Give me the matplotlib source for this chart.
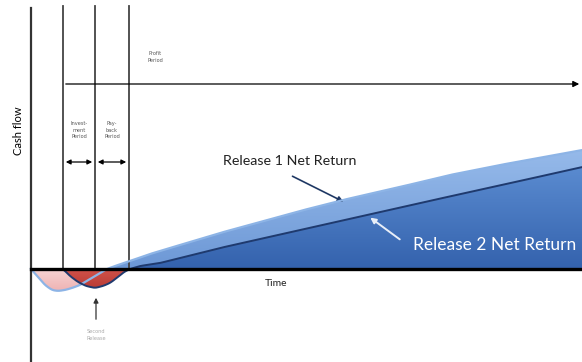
import numpy as np
import matplotlib.pyplot as plt
from matplotlib.colors import LinearSegmentedColormap
from matplotlib.path import Path

# time axis runs 0..582, cash flow zero sits at 0
release1_t = [31, 38, 45, 52, 58, 65, 72, 80, 90, 100, 107, 115, 130, 150, 180,
              220, 260, 300, 343, 400, 450, 500, 550, 582]
release1_cf = [0, -8, -16, -21, -22, -21, -19, -16, -10, -4, 0, 3, 8, 15, 24,
               36, 47, 58, 69, 82, 94, 104, 113, 119]

release2_t = [63, 70, 78, 86, 95, 103, 110, 118, 124, 130, 140, 160, 180, 220,
              260, 300, 367, 420, 470, 520, 582]
release2_cf = [0, -7, -13, -17, -19, -17, -14, -8, -3, 0, 3, 6, 11, 21, 30, 39,
               54, 66, 77, 88, 102]

period_marks = [63, 95, 129]  # release 2 start, payback start, profit start
period_labels = ["Invest-\nment\nPeriod", "Pay-\nback\nPeriod"]


def smooth_curve(t, cf, start):
    x = np.arange(start, 583, 0.5)
    y = np.interp(x, t, cf)
    k = 11
    pad = np.pad(y, k // 2, mode="edge")
    y = np.convolve(pad, np.ones(k) / k, mode="valid")
    y[0] = 0
    return x, y


x1, t1 = smooth_curve(release1_t, release1_cf, 31)
x2, t2 = smooth_curve(release2_t, release2_cf, 63)


def gradient_fill(ax, x, y, mask, top, bottom, ymin, ymax, z):
    poly = ax.fill_between(x, y, 0, where=mask, color="none")
    path = Path.make_compound_path(*poly.get_paths())
    cmap = LinearSegmentedColormap.from_list("g", [bottom, top])
    grad = np.linspace(0, 1, 256).reshape(-1, 1)
    im = ax.imshow(grad, cmap=cmap, aspect="auto", origin="lower",
                   extent=[0, 582, ymin, ymax], zorder=z,
                   interpolation="bilinear")
    im.set_clip_path(path, transform=ax.transData)


fig = plt.figure(figsize=(5.82, 3.62), dpi=100)
ax = fig.add_axes([0, 0, 1, 1])

# negative (investment) areas
gradient_fill(ax, x1, t1, t1 < 0, "#f6d3d3", "#eeb0b0", -24, 0, 1)
gradient_fill(ax, x2, t2, t2 < 0, "#d0524a", "#b83a34", -20, 0, 2)

# positive (return) areas
gradient_fill(ax, x1, t1, t1 > 0, "#96baea", "#6d98d6", 0, 120, 1)
gradient_fill(ax, x2, t2, t2 > 0, "#5a8bd0", "#3462ad", 0, 102, 2)

ax.plot(x1, t1, color="#8db4e6", lw=1.6, zorder=4)
ax.plot(x2, t2, color="#1f3a6e", lw=1.4, zorder=4)

ax.set_xlim(0, 582)
ax.set_ylim(-93, 269)
ax.axis("off")

# axes of the diagram
ax.plot([31, 31], [-93, 261], color="#333333", lw=1.6, zorder=5)
ax.plot([31, 582], [0, 0], color="black", lw=2.4, zorder=5)
for m in period_marks:
    ax.plot([m, m], [0, 263], color="#444444", lw=1.3, zorder=3)

# profit period arrow
ax.annotate("", xy=(582, 185), xytext=(63, 185),
            arrowprops=dict(arrowstyle="-|>", color="black", lw=0.9,
                            mutation_scale=9))
for a, b in zip(period_marks[:-1], period_marks[1:]):
    ax.annotate("", xy=(b, 107), xytext=(a, 107),
                arrowprops=dict(arrowstyle="<|-|>", color="black", lw=0.9,
                                mutation_scale=7))

small = dict(fontsize=3.6, color="#555555", ha="center", va="center",
             linespacing=1.3)
ax.text(155, 212, "Profit\nPeriod", **small)
for a, b, lab in zip(period_marks[:-1], period_marks[1:], period_labels):
    ax.text((a + b) / 2, 139, lab, **small)

ax.text(18, 138, "Cash flow", rotation=90, fontsize=8, ha="center",
        va="center", family="Lato")
ax.text(276, -14, "Time", fontsize=7.5, ha="center", va="center",
        family="Lato", color="#222222")

ax.text(290, 108, "Release 1 Net Return", fontsize=10.3, ha="center",
        va="center", family="Lato", color="#222222")
ax.annotate("", xy=(346, 66), xytext=(290, 94),
            arrowprops=dict(arrowstyle="-|>", color="#1f3864", lw=1.2,
                            mutation_scale=8))

ax.text(495, 24, "Release 2 Net Return", fontsize=12.5, ha="center",
        va="center", family="Lato", color="white", zorder=6)
ax.annotate("", xy=(368, 53), xytext=(402, 28),
            arrowprops=dict(arrowstyle="-|>", color="#e8eef8", lw=1.4,
                            mutation_scale=8), zorder=6)

ax.annotate("", xy=(96, -26), xytext=(96, -53),
            arrowprops=dict(arrowstyle="-|>", color="#333333", lw=0.9,
                            mutation_scale=7))
ax.text(96, -66, "Second\nRelease", fontsize=3.6, color="#aaaaaa",
        ha="center", va="center", linespacing=1.3)

fig.savefig("out.png", dpi=100)
